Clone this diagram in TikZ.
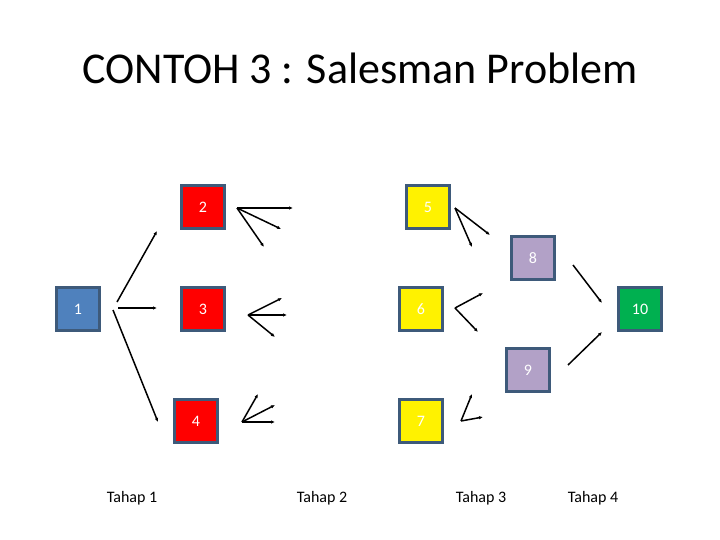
\documentclass[tikz,border=0pt]{standalone}
\usepackage{fontspec}
\setmainfont{Carlito}
\usetikzlibrary{arrows.meta}
\definecolor{bord}{HTML}{3E5A7A}
\definecolor{bl}{HTML}{4F81BD}
\definecolor{pu}{HTML}{B2A1C7}
\definecolor{gr}{HTML}{00B050}
\begin{document}
\begin{tikzpicture}[x=1pt,y=-1pt,
  box/.style={draw=bord,line width=3pt,minimum size=43pt,inner sep=0pt,font=\fontsize{16}{16}\selectfont,text=white},
  arr/.style={-{Latex[length=4pt,width=3.5pt]},line width=1.5pt},
  lab/.style={font=\fontsize{16}{16}\selectfont}]
\useasboundingbox (0,0) rectangle (720,540);
\node[font=\fontsize{44}{44}\selectfont] (title) at (360,68) {CONTOH 3 : Salesman Problem};
\node[box,fill=bl] (n1) at (78,309) {1};
\node[box,fill=red] (n2) at (203,207) {2};
\node[box,fill=red] (n3) at (203,309) {3};
\node[box,fill=red] (n4) at (196,421) {4};
\node[box,fill=yellow] (n5) at (428,207) {5};
\node[box,fill=yellow] (n6) at (421,309) {6};
\node[box,fill=yellow] (n7) at (421,421) {7};
\node[box,fill=pu] (n8) at (533,258) {8};
\node[box,fill=pu] (n9) at (528,370) {9};
\node[box,fill=gr] (n10) at (640,309) {10};
\node[lab] (t1) at (132,498) {Tahap 1};
\node[lab] (t2) at (322,498) {Tahap 2};
\node[lab] (t3) at (481,498) {Tahap 3};
\node[lab] (t4) at (593,498) {Tahap 4};
% stage 1
\coordinate (a1) at (117,302); \coordinate (a1e) at (157,231);
\coordinate (a2) at (118,308); \coordinate (a2e) at (157,308);
\coordinate (a3) at (113,310); \coordinate (a3e) at (158,422);
\draw[arr] (a1)--(a1e); \draw[arr] (a2)--(a2e); \draw[arr] (a3)--(a3e);
% at 2
\coordinate (o2) at (237,208);
\coordinate (e21) at (293,208); \coordinate (e22) at (281,229); \coordinate (e23) at (264,247);
\draw[arr] (o2)--(e21); \draw[arr] (o2)--(e22); \draw[arr] (o2)--(e23);
% at 3
\coordinate (o3) at (248,315);
\coordinate (e31) at (282,298); \coordinate (e32) at (287,315); \coordinate (e33) at (275,337);
\draw[arr] (o3)--(e31); \draw[arr] (o3)--(e32); \draw[arr] (o3)--(e33);
% at 4
\coordinate (o4) at (242,422);
\coordinate (e41) at (258,394); \coordinate (e42) at (275,405); \coordinate (e43) at (275,422);
\draw[arr] (o4)--(e41); \draw[arr] (o4)--(e42); \draw[arr] (o4)--(e43);
% at 5
\coordinate (o5) at (455,208);
\coordinate (e51) at (472,247); \coordinate (e52) at (490,235);
\draw[arr] (o5)--(e51); \draw[arr] (o5)--(e52);
% at 6
\coordinate (o6) at (455,308);
\coordinate (e61) at (483,293); \coordinate (e62) at (478,332);
\draw[arr] (o6)--(e61); \draw[arr] (o6)--(e62);
% at 7
\coordinate (o7) at (461,421);
\coordinate (e71) at (472,394); \coordinate (e72) at (483,417);
\draw[arr] (o7)--(e71); \draw[arr] (o7)--(e72);
% to 10
\coordinate (s8) at (573,265); \coordinate (f8) at (602,303);
\coordinate (s9) at (568,365); \coordinate (f9) at (602,332);
\draw[arr] (s8)--(f8); \draw[arr] (s9)--(f9);
\end{tikzpicture}
\end{document}
